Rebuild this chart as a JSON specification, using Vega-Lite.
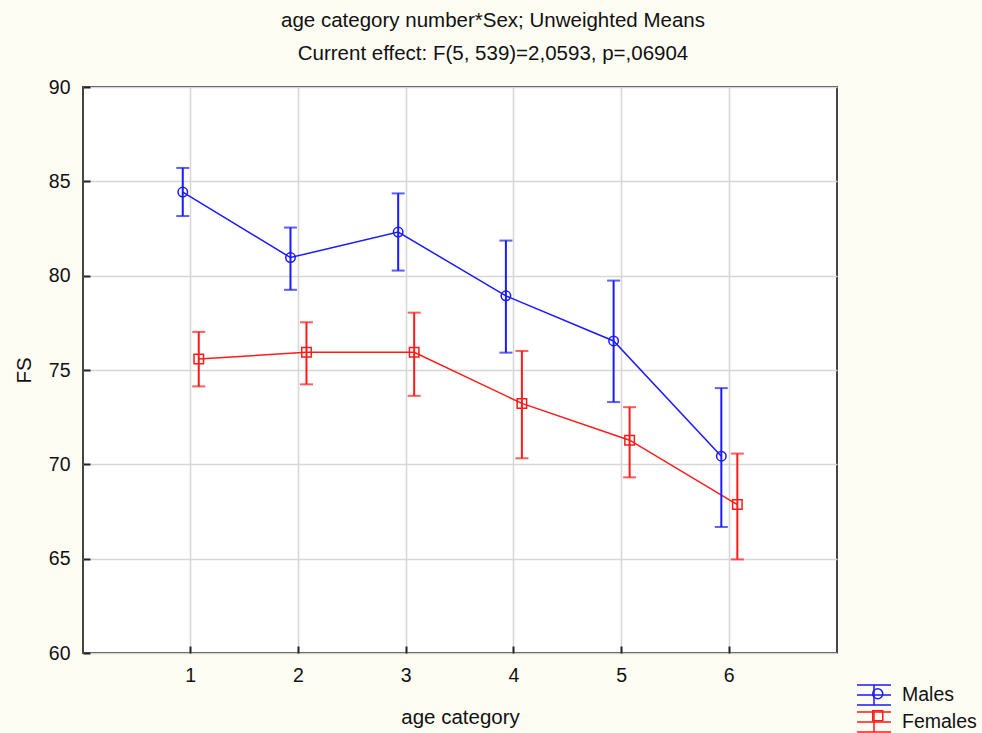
{
  "$schema": "https://vega.github.io/schema/vega-lite/v6.json",
  "autosize": {"type": "none"},
  "width": 754,
  "height": 566,
  "padding": {"left": 83, "top": 87, "right": 145, "bottom": 80},
  "background": "#fdfdf4",
  "config": {
    "font": "Liberation Sans",
    "view": {"fill": "#ffffff", "stroke": "#444444", "strokeWidth": 2},
    "axis": {
      "domain": false,
      "labelFont": "Liberation Sans",
      "titleFont": "Liberation Sans",
      "labelFontSize": 19.5,
      "titleFontSize": 20.5,
      "titleFontWeight": "normal",
      "labelColor": "#111111",
      "titleColor": "#111111",
      "tickColor": "#222222",
      "tickWidth": 2,
      "gridColor": "#d6d6d6",
      "gridWidth": 1.5
    }
  },
  "resolve": {"legend": {"color": "independent", "shape": "independent"}},
  "title": {
    "text": ["age category number*Sex; Unweighted Means", "Current effect: F(5, 539)=2,0593, p=,06904"],
    "anchor": "middle",
    "frame": "group",
    "dx": 33,
    "offset": 13,
    "font": "Liberation Sans",
    "fontSize": 20.5,
    "fontWeight": "normal",
    "color": "#111111",
    "lineHeight": 33
  },
  "data": {
    "values": [
      {"age": "1", "sex": "Males", "mean": 84.43, "lo": 83.16, "hi": 85.71},
      {"age": "2", "sex": "Males", "mean": 80.96, "lo": 79.25, "hi": 82.55},
      {"age": "3", "sex": "Males", "mean": 82.31, "lo": 80.27, "hi": 84.36},
      {"age": "4", "sex": "Males", "mean": 78.93, "lo": 75.92, "hi": 81.86},
      {"age": "5", "sex": "Males", "mean": 76.54, "lo": 73.30, "hi": 79.74},
      {"age": "6", "sex": "Males", "mean": 70.43, "lo": 66.68, "hi": 74.04},
      {"age": "1", "sex": "Females", "mean": 75.58, "lo": 74.13, "hi": 77.02},
      {"age": "2", "sex": "Females", "mean": 75.94, "lo": 74.24, "hi": 77.53},
      {"age": "3", "sex": "Females", "mean": 75.94, "lo": 73.63, "hi": 78.04},
      {"age": "4", "sex": "Females", "mean": 73.23, "lo": 70.32, "hi": 76.01},
      {"age": "5", "sex": "Females", "mean": 71.28, "lo": 69.31, "hi": 73.03},
      {"age": "6", "sex": "Females", "mean": 67.87, "lo": 64.96, "hi": 70.57}
    ]
  },
  "encoding": {
    "x": {"field": "age", "type": "ordinal", "sort": ["1", "2", "3", "4", "5", "6"],
          "scale": {"type": "band", "paddingInner": 0, "paddingOuter": 0.5},
          "axis": {"title": "age category", "labelAngle": 0, "offset": -7, "tickSize": 7, "labelPadding": 13,
                   "titlePadding": 23, "grid": true, "bandPosition": 0.5}},
    "y": {"field": "mean", "type": "quantitative", "scale": {"domain": [60, 90], "nice": false, "zero": false},
          "axis": {"title": "FS", "values": [60, 65, 70, 75, 80, 85, 90], "offset": -7, "tickSize": 7, "labelPadding": 13,
                   "titlePadding": 14, "grid": true}},
    "xOffset": {"field": "sex", "type": "nominal", "sort": ["Males", "Females"],
                "scale": {"type": "point", "padding": 0, "range": [45.9, 61.9]}},
    "color": {"field": "sex", "type": "nominal", "sort": ["Males", "Females"],
              "scale": {"domain": ["Males", "Females"], "range": ["#1a1aff", "#ff1a1a"]}}
  },
  "layer": [
    {
      "mark": {"type": "line", "strokeWidth": 1.5},
      "encoding": {
        "color": {"field": "sex", "type": "nominal", "sort": ["Males", "Females"], "legend": null}
      }
    },
    {
      "mark": {"type": "rule", "strokeWidth": 2},
      "encoding": {
        "y": {"field": "lo", "type": "quantitative"},
        "y2": {"field": "hi"},
        "color": {"field": "sex", "type": "nominal", "sort": ["Males", "Females"],
                  "legend": {"title": null, "orient": "none", "legendX": 780, "legendY": 597,
                             "labelFontSize": 19.5, "labelColor": "#111111", "labelFont": "Liberation Sans",
                             "labelOffset": 17, "rowPadding": 1, "padding": 0,
                             "symbolType": "M-1.7,-1H1.7M-1.7,0H1.7M-1.7,1H1.7M0,-1V1",
                             "symbolSize": 400, "symbolStrokeWidth": 1.5}}
      }
    },
    {
      "mark": {"type": "tick", "orient": "horizontal", "size": 13, "thickness": 2},
      "encoding": {
        "y": {"field": "lo", "type": "quantitative"},
        "color": {"field": "sex", "type": "nominal", "sort": ["Males", "Females"], "legend": null}
      }
    },
    {
      "mark": {"type": "tick", "orient": "horizontal", "size": 13, "thickness": 2},
      "encoding": {
        "y": {"field": "hi", "type": "quantitative"},
        "color": {"field": "sex", "type": "nominal", "sort": ["Males", "Females"], "legend": null}
      }
    },
    {
      "mark": {"type": "point", "filled": false, "strokeWidth": 1.5, "opacity": 1, "size": 90},
      "encoding": {
        "color": {"field": "sex", "type": "nominal", "sort": ["Males", "Females"],
                  "legend": {"title": null, "orient": "none", "legendX": 785, "legendY": 597,
                             "labelFontSize": 19.5, "labelColor": "transparent", "labelFont": "Liberation Sans",
                             "labelOffset": 17, "rowPadding": 1, "padding": 0,
                             "symbolSize": 100, "symbolStrokeWidth": 1.5, "symbolFillColor": "transparent"}},
        "shape": {"field": "sex", "type": "nominal", "sort": ["Males", "Females"],
                  "scale": {"domain": ["Males", "Females"], "range": ["circle", "square"]},
                  "legend": {"title": null, "orient": "none", "legendX": 785, "legendY": 597,
                             "labelFontSize": 19.5, "labelColor": "transparent", "labelFont": "Liberation Sans",
                             "labelOffset": 17, "rowPadding": 1, "padding": 0,
                             "symbolSize": 100, "symbolStrokeWidth": 1.5, "symbolFillColor": "transparent"}}
      }
    }
  ]
}
